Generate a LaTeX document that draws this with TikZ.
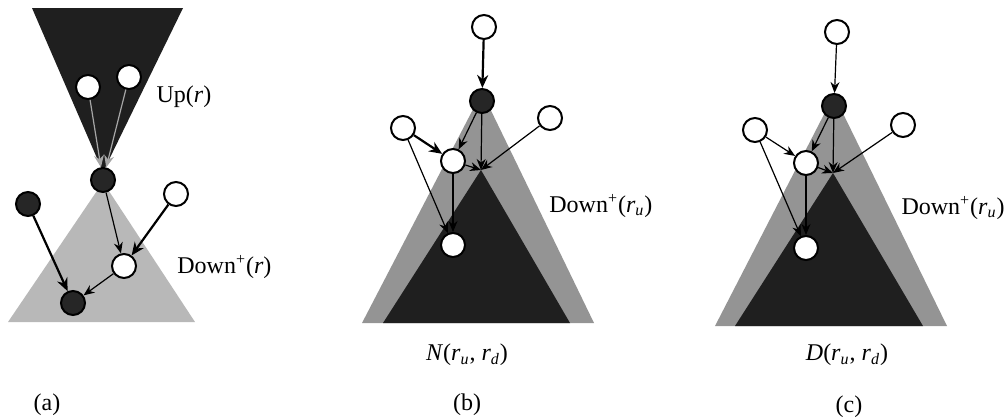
\documentclass[tikz,border=0pt]{standalone}
\usepackage{fontspec}
\setmainfont{Liberation Serif}
\usetikzlibrary{arrows.meta}
\begin{document}
\begin{tikzpicture}[x=0.5pt,y=-0.5pt,
  vtx/.style={circle,draw=black,line width=1pt,minimum size=12pt,inner sep=0pt},
  wv/.style={vtx,fill=white},
  bv/.style={vtx,fill=black!85},
  ed/.style={line width=0.6pt,-{Stealth[length=5.5pt,width=4.5pt]}},
  edt/.style={line width=1.1pt,-{Stealth[length=6.5pt,width=5.5pt]}},
  upedge/.style={line width=0.6pt,draw=black!35,-{Stealth[length=6pt,width=5pt]}},
  lbl/.style={font=\fontsize{12}{14}\selectfont,inner sep=0pt},
  sup/.style={},
  lightA/.style={fill=black!28},
  lightB/.style={fill=black!42},
  darkT/.style={fill=black!88}]
\useasboundingbox (0,0) rectangle (1008,419);

% ---------- (a) ----------
\fill[lightA] (103,182) -- (195,322) -- (8,322) -- cycle;
\fill[darkT] (32,8) -- (183,8) -- (103,172) -- cycle;
\node[wv] (au1) at (88,87) {};
\node[wv] (au2) at (129,77) {};
\node[bv] (ar) at (103,180) {};
\node[bv] (al) at (28,204) {};
\node[wv] (aw) at (176,194) {};
\node[wv] (am) at (124,266) {};
\node[bv] (ab) at (73,303) {};
\draw[upedge] (au1) -- (ar);
\draw[upedge] (au2) -- (ar);
\draw[ed] (ar) -- (am);
\draw[edt] (aw) -- (am);
\draw[edt] (al) -- (ab);
\draw[ed] (am) -- (ab);
\node[lbl] (aup) at (184,97) {Up(\textit{r})};
\node[lbl,anchor=west] (adown) at (177,267) {Down\textsuperscript{+}(\textit{r})};
\node[lbl] (acap) at (47,405) {(a)};

% ---------- (b) ----------
\fill[lightB] (482,92) -- (594,323) -- (362,323) -- cycle;
\fill[darkT] (481,170) -- (570,323) -- (383,323) -- cycle;
\coordinate (bA) at (481,170);
\node[wv] (bt) at (484,27) {};
\node[bv] (bd) at (482,101) {};
\node[wv] (bl) at (403,128) {};
\node[wv] (br) at (550,118) {};
\node[wv] (bm) at (453,161) {};
\node[wv] (blo) at (453,245) {};
\draw[edt] (bt) -- (bd);
\draw[edt] (bl) -- (bm);
\draw[ed] (bd) -- (bm);
\draw[ed] (bd) -- (bA);
\draw[ed] (br) -- (bA);
\draw[ed] (bm) -- (bA);
\draw[ed] (bl) -- (blo);
\draw[ed] (bm) -- (blo);
\node[lbl,anchor=west] (bdown) at (549,206) {Down\textsuperscript{+}(\textit{r}\textsubscript{\textit{u}})};
\node[lbl] (bN) at (467,355) {\textit{N}(\textit{r}\textsubscript{\textit{u}}, \textit{r}\textsubscript{\textit{d}})};
\node[lbl] (bcap) at (467,405) {(b)};

% ---------- (c) ----------
\fill[lightB] (834,95) -- (947,326) -- (715,326) -- cycle;
\fill[darkT] (833,173) -- (923,326) -- (735,326) -- cycle;
\coordinate (cA) at (833,173);
\node[wv] (ct) at (837,32) {};
\node[bv] (cd) at (834,106) {};
\node[wv] (cl) at (755,130) {};
\node[wv] (cr) at (903,125) {};
\node[wv] (cm) at (806,163) {};
\node[wv] (clo) at (806,248) {};
\draw[ed] (ct) -- (cd);
\draw[ed] (cl) -- (cm);
\draw[ed] (cd) -- (cm);
\draw[ed] (cd) -- (cA);
\draw[ed] (cr) -- (cA);
\draw[ed] (cm) -- (cA);
\draw[ed] (cl) -- (clo);
\draw[ed] (cm) -- (clo);
\node[lbl,anchor=east] (cdown) at (1005,208) {Down\textsuperscript{+}(\textit{r}\textsubscript{\textit{u}})};
\node[lbl] (cD) at (847,355) {\textit{D}(\textit{r}\textsubscript{\textit{u}}, \textit{r}\textsubscript{\textit{d}})};
\node[lbl] (ccap) at (849,407) {(c)};
\end{tikzpicture}
\end{document}
